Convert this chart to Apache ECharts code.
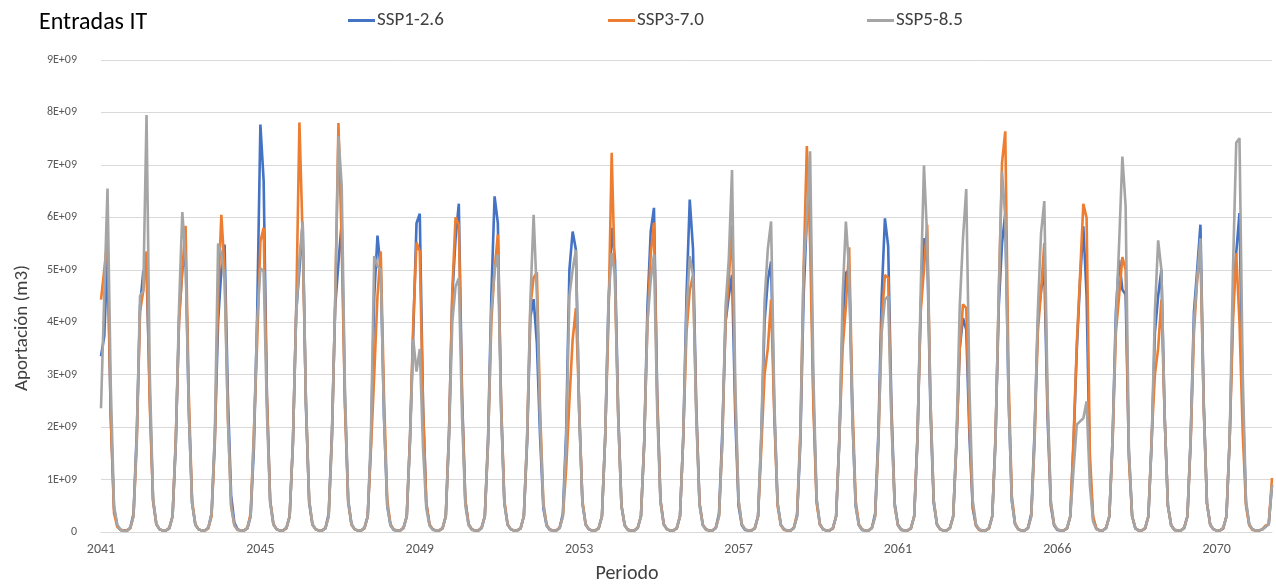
<!DOCTYPE html>
<html>
<head>
<meta charset="utf-8">
<script src="https://cdn.jsdelivr.net/npm/echarts@6/dist/echarts.min.js"></script>
<style>html,body{margin:0;padding:0;background:#fff}#chart{width:1276px;height:586px}</style>
</head>
<body>
<div id="chart"></div>
<script>
// Monthly inflows, values in units of 1E+09 m3 (one row = one year of 12 months)
const seriesNames = ['SSP1-2.6', 'SSP3-7.0', 'SSP5-8.5'];
const tickLabels = ['2041', '2045', '2049', '2053', '2057', '2061', '2066', '2070'];

const ssp126 = [
 3.35,3.73,5.30,2.20,0.45,0.12,0.04,0.03,0.03,0.08,0.35,1.90,
 4.30,4.97,5.00,2.60,0.60,0.15,0.05,0.03,0.03,0.07,0.30,1.70,
 4.10,5.00,5.31,2.30,0.55,0.14,0.05,0.03,0.03,0.08,0.35,1.80,
 4.00,5.00,5.48,2.60,0.70,0.18,0.05,0.03,0.03,0.07,0.30,1.60,
 4.10,7.77,6.70,2.60,0.60,0.15,0.05,0.03,0.03,0.08,0.30,1.70,
 4.20,5.00,5.90,2.40,0.55,0.14,0.05,0.03,0.03,0.07,0.35,1.90,
 4.30,5.13,5.92,2.50,0.60,0.15,0.05,0.03,0.03,0.08,0.30,1.70,
 4.50,5.65,5.00,2.20,0.50,0.13,0.04,0.03,0.03,0.08,0.30,1.80,
 3.80,5.89,6.07,2.40,0.55,0.14,0.05,0.03,0.03,0.07,0.30,1.90,
 4.50,5.60,6.26,2.60,0.60,0.15,0.05,0.03,0.03,0.08,0.30,1.80,
 4.50,6.40,5.89,2.40,0.55,0.14,0.05,0.03,0.03,0.07,0.30,1.70,
 4.10,4.44,3.60,1.80,0.45,0.12,0.04,0.03,0.03,0.08,0.35,1.90,
 5.00,5.73,5.38,2.30,0.55,0.14,0.05,0.03,0.03,0.07,0.30,1.80,
 4.30,5.80,5.20,2.30,0.50,0.13,0.04,0.03,0.03,0.08,0.30,1.70,
 4.30,5.73,6.18,2.60,0.60,0.15,0.05,0.03,0.03,0.07,0.30,1.80,
 4.50,6.34,5.40,2.40,0.55,0.14,0.05,0.03,0.03,0.08,0.35,1.90,
 4.00,4.50,4.90,2.20,0.50,0.13,0.04,0.03,0.03,0.07,0.30,1.80,
 4.00,4.80,5.16,2.30,0.55,0.14,0.05,0.03,0.03,0.08,0.30,1.70,
 4.50,6.00,6.20,2.60,0.60,0.15,0.05,0.03,0.03,0.07,0.30,1.80,
 4.00,4.94,5.00,2.20,0.50,0.13,0.04,0.03,0.03,0.08,0.35,1.90,
 4.50,5.98,5.45,2.40,0.55,0.14,0.05,0.03,0.03,0.07,0.30,1.80,
 4.30,5.60,5.40,2.30,0.55,0.14,0.05,0.03,0.03,0.08,0.30,1.70,
 3.50,4.08,3.86,1.80,0.45,0.12,0.04,0.03,0.03,0.07,0.30,1.80,
 4.30,5.50,6.08,2.60,0.60,0.15,0.05,0.03,0.03,0.08,0.35,1.90,
 4.00,4.60,5.00,2.20,0.50,0.13,0.04,0.03,0.03,0.07,0.30,1.70,
 3.50,4.80,5.83,4.50,1.20,0.25,0.06,0.03,0.03,0.08,0.30,1.80,
 4.20,5.19,4.62,4.53,1.50,0.30,0.07,0.03,0.03,0.07,0.30,1.70,
 3.80,4.50,5.00,2.20,0.50,0.13,0.04,0.03,0.03,0.08,0.30,1.80,
 4.20,5.00,5.86,2.50,0.55,0.14,0.05,0.03,0.03,0.07,0.30,1.80,
 4.30,5.32,6.08,2.50,0.55,0.14,0.05,0.03,0.03,0.05,0.10,0.15,
 0.90
];

const ssp370 = [
 4.43,5.00,5.60,2.20,0.36,0.10,0.04,0.03,0.03,0.07,0.30,1.70,
 4.20,4.60,5.35,2.40,0.60,0.15,0.05,0.03,0.03,0.08,0.30,1.80,
 4.00,5.00,5.84,2.60,0.60,0.15,0.05,0.03,0.03,0.07,0.30,1.70,
 4.50,6.05,5.00,2.20,0.50,0.13,0.04,0.03,0.03,0.08,0.35,1.90,
 3.60,5.54,5.80,2.60,0.60,0.15,0.05,0.03,0.03,0.07,0.30,1.70,
 4.20,7.81,5.60,2.50,0.60,0.15,0.05,0.03,0.03,0.08,0.30,1.80,
 4.40,7.80,5.50,2.40,0.55,0.14,0.05,0.03,0.03,0.07,0.30,1.60,
 3.00,4.50,5.35,2.60,0.60,0.15,0.05,0.03,0.03,0.08,0.30,1.80,
 4.00,5.52,5.35,2.40,0.55,0.14,0.05,0.03,0.03,0.07,0.30,1.90,
 4.60,6.00,5.86,2.50,0.60,0.15,0.05,0.03,0.03,0.08,0.30,1.70,
 4.00,5.00,5.67,2.50,0.60,0.15,0.05,0.03,0.03,0.07,0.30,1.80,
 4.30,4.85,4.95,2.30,0.55,0.14,0.05,0.03,0.03,0.08,0.30,1.20,
 2.50,3.67,4.27,2.40,0.60,0.15,0.05,0.03,0.03,0.07,0.30,1.80,
 4.00,7.23,4.80,2.20,0.50,0.13,0.04,0.03,0.03,0.08,0.30,1.70,
 4.00,5.30,5.90,2.50,0.60,0.15,0.05,0.03,0.03,0.07,0.30,1.80,
 3.80,4.60,4.90,2.30,0.55,0.14,0.05,0.03,0.03,0.08,0.30,1.70,
 4.00,4.80,5.85,2.50,0.60,0.15,0.05,0.03,0.03,0.07,0.30,1.60,
 3.00,3.50,4.43,2.20,0.50,0.13,0.04,0.03,0.03,0.08,0.35,1.90,
 5.00,7.36,5.50,2.40,0.55,0.14,0.05,0.03,0.03,0.07,0.30,1.80,
 3.50,4.30,5.43,2.50,0.60,0.15,0.05,0.03,0.03,0.08,0.30,1.70,
 4.00,4.90,4.85,2.20,0.50,0.13,0.04,0.03,0.03,0.07,0.30,1.80,
 4.20,5.00,5.86,2.50,0.60,0.15,0.05,0.03,0.03,0.08,0.30,1.70,
 3.50,4.34,4.27,2.00,0.50,0.13,0.04,0.03,0.03,0.07,0.30,1.80,
 4.50,7.04,7.64,3.00,0.70,0.17,0.05,0.03,0.03,0.08,0.30,1.70,
 3.80,4.60,5.51,2.40,0.55,0.14,0.05,0.03,0.03,0.07,0.30,1.80,
 3.60,4.90,6.26,5.99,1.50,0.30,0.07,0.03,0.03,0.08,0.30,1.70,
 3.80,4.50,5.24,5.00,1.40,0.30,0.07,0.03,0.03,0.07,0.30,1.80,
 3.00,3.50,4.43,2.20,0.50,0.13,0.04,0.03,0.03,0.08,0.30,1.70,
 3.80,4.81,5.35,2.40,0.55,0.14,0.05,0.03,0.03,0.07,0.30,1.80,
 4.00,5.32,4.00,1.90,0.50,0.13,0.04,0.03,0.03,0.05,0.12,0.15,
 1.03
];

const ssp585 = [
 2.36,4.50,6.55,2.80,0.50,0.14,0.04,0.02,0.02,0.08,0.30,1.80,
 4.50,4.60,7.95,3.00,0.65,0.16,0.05,0.03,0.03,0.07,0.30,1.70,
 4.30,6.10,5.20,2.30,0.55,0.14,0.05,0.03,0.03,0.08,0.35,1.90,
 5.50,5.30,4.80,2.20,0.50,0.13,0.04,0.03,0.03,0.07,0.30,1.80,
 4.00,5.03,4.97,2.30,0.55,0.14,0.05,0.03,0.03,0.08,0.30,1.70,
 4.10,5.20,5.92,2.50,0.60,0.15,0.05,0.03,0.03,0.07,0.30,1.80,
 4.40,7.55,6.60,2.70,0.60,0.15,0.05,0.03,0.03,0.08,0.30,1.90,
 5.26,5.07,5.00,2.20,0.50,0.13,0.04,0.03,0.03,0.07,0.30,1.70,
 3.67,3.06,3.49,1.60,0.45,0.12,0.04,0.03,0.03,0.08,0.30,1.80,
 4.00,4.68,4.84,2.20,0.50,0.13,0.04,0.03,0.03,0.07,0.30,1.70,
 4.20,5.00,5.29,2.30,0.55,0.14,0.05,0.03,0.03,0.08,0.30,1.80,
 4.40,6.05,4.50,2.10,0.50,0.13,0.04,0.03,0.03,0.07,0.30,1.70,
 4.50,5.00,5.38,2.30,0.55,0.14,0.05,0.03,0.03,0.08,0.30,1.80,
 4.40,5.32,4.90,2.20,0.50,0.13,0.04,0.03,0.03,0.07,0.30,1.70,
 4.00,4.80,5.29,2.30,0.55,0.14,0.05,0.03,0.03,0.08,0.30,1.80,
 4.20,5.26,4.90,2.20,0.50,0.13,0.04,0.03,0.03,0.07,0.30,1.70,
 4.30,5.20,6.90,2.80,0.60,0.15,0.05,0.03,0.03,0.08,0.30,1.90,
 4.40,5.40,5.92,2.50,0.55,0.14,0.05,0.03,0.03,0.07,0.30,1.80,
 5.00,6.00,7.26,3.00,0.65,0.16,0.05,0.03,0.03,0.08,0.30,1.70,
 4.50,5.92,5.00,2.20,0.50,0.13,0.04,0.03,0.03,0.07,0.30,1.80,
 3.80,4.43,4.50,2.10,0.50,0.13,0.04,0.03,0.03,0.08,0.30,1.70,
 4.60,6.99,5.60,2.50,0.60,0.15,0.05,0.03,0.03,0.07,0.30,1.80,
 4.30,5.60,6.54,2.70,0.60,0.15,0.05,0.03,0.03,0.08,0.30,1.70,
 4.60,6.88,6.00,2.60,0.60,0.15,0.05,0.03,0.03,0.07,0.30,1.80,
 4.20,5.70,6.31,2.60,0.60,0.15,0.05,0.03,0.03,0.08,0.30,1.20,
 2.05,2.11,2.17,2.49,0.90,0.20,0.05,0.03,0.03,0.07,0.30,1.80,
 4.00,5.50,7.16,6.21,1.60,0.30,0.07,0.03,0.03,0.08,0.30,1.70,
 4.20,5.56,5.00,2.20,0.50,0.13,0.04,0.03,0.03,0.07,0.30,1.80,
 4.00,4.84,5.60,2.40,0.55,0.14,0.05,0.03,0.03,0.08,0.30,1.80,
 5.00,7.42,7.51,3.00,0.60,0.15,0.05,0.03,0.03,0.05,0.10,0.15,
 0.90
];

const colors = ['#4472C4', '#ED7D31', '#A5A5A5'];
const FONT = 'Carlito, Calibri, "Liberation Sans", Arial, sans-serif';
const labelStep = 49; // one year label every 49 monthly categories

const categories = ssp126.map(function (_, i) { return String(i); });

const chart = echarts.init(document.getElementById('chart'), null, { renderer: 'canvas' });

function legendAt(name, left) {
  return {
    data: [name], left: left, top: 6, icon: 'rect', itemWidth: 27, itemHeight: 3,
    textStyle: { fontFamily: FONT, fontSize: 19, color: '#404040', padding: [0, 0, 0, -3] },
    selectedMode: false
  };
}

chart.setOption({
  animation: false,
  backgroundColor: '#ffffff',
  color: colors,
  title: {
    text: 'Entradas IT', left: 34, top: 6,
    textStyle: { fontFamily: FONT, fontSize: 24, fontWeight: 'normal', color: '#000000' }
  },
  legend: [
    legendAt(seriesNames[0], 343),
    legendAt(seriesNames[1], 603),
    legendAt(seriesNames[2], 862)
  ],
  grid: { left: 101, right: 4, top: 60, bottom: 54, containLabel: false },
  xAxis: {
    type: 'category', data: categories, boundaryGap: false,
    axisLine: { lineStyle: { color: '#d9d9d9', width: 1 } },
    axisTick: { show: false },
    axisLabel: {
      interval: labelStep - 1, margin: 10,
      fontFamily: FONT, fontSize: 14, color: '#595959',
      formatter: function (v, idx) { return tickLabels[idx / labelStep] || ''; }
    },
    splitLine: { show: false }
  },
  yAxis: {
    type: 'value', min: 0, max: 9, interval: 1,
    axisLine: { show: false }, axisTick: { show: false },
    axisLabel: {
      margin: 24, fontFamily: FONT, fontSize: 12, color: '#595959',
      formatter: function (v) { return v === 0 ? '0' : v + 'E+09'; }
    },
    splitLine: { lineStyle: { color: '#d9d9d9', width: 1 } }
  },
  graphic: [
    { type: 'text', x: 627, y: 574,
      style: { text: 'Periodo', font: '20px ' + FONT, fill: '#404040', align: 'center', verticalAlign: 'middle' } },
    { type: 'text', x: 22, y: 328, rotation: Math.PI / 2,
      style: { text: 'Aportación (m3)', font: '19px ' + FONT, fill: '#404040', align: 'center', verticalAlign: 'middle' } }
  ],
  series: [
    { name: seriesNames[0], type: 'line', data: ssp126, showSymbol: false, lineStyle: { width: 2.6 }, z: 2 },
    { name: seriesNames[1], type: 'line', data: ssp370, showSymbol: false, lineStyle: { width: 2.6 }, z: 3 },
    { name: seriesNames[2], type: 'line', data: ssp585, showSymbol: false, lineStyle: { width: 2.6 }, z: 4 }
  ]
});
</script>
</body>
</html>
